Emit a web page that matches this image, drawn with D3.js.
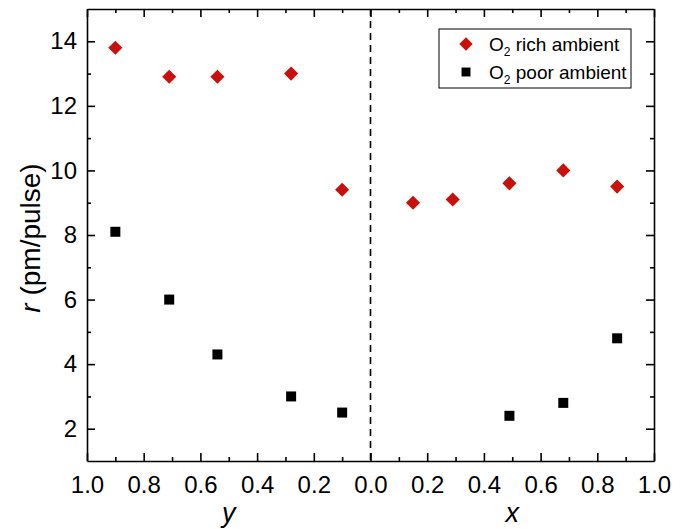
<!DOCTYPE html>
<html>
<head>
<meta charset="utf-8">
<script src="https://cdn.jsdelivr.net/npm/d3@7"></script>
<style>
  body { margin: 0; background: #fff; }
  text { font-family: Arial, "Liberation Sans", sans-serif; fill: #000; }
</style>
</head>
<body>
<div id="chart"></div>
<script>
// composition on the y side (left half) and x side (right half)
const yComp = [0.9, 0.71, 0.54, 0.28, 0.1];
const xCompRich = [0.15, 0.29, 0.49, 0.68, 0.87];
const xCompPoor = [0.49, 0.68, 0.87];

// rate r (pm/pulse)
const richLeft = [13.8, 12.9, 12.9, 13.0, 9.4];
const poorLeft = [8.1, 6.0, 4.3, 3.0, 2.5];
const richRight = [9.0, 9.1, 9.6, 10.0, 9.5];
const poorRight = [2.4, 2.8, 4.8];

const xTicks = [-1, -0.8, -0.6, -0.4, -0.2, 0, 0.2, 0.4, 0.6, 0.8, 1];
const yTicks = [2, 4, 6, 8, 10, 12, 14];

const width = 688, height = 529;
const margin = { top: 9, right: 34, bottom: 68, left: 87 };
const w = width - margin.left - margin.right;
const h = height - margin.top - margin.bottom;

const svg = d3.select("#chart")
    .append("svg")
    .attr("width", width)
    .attr("height", height);

const g = svg.append("g")
    .attr("transform", `translate(${margin.left},${margin.top})`);

// left half is y composition mirrored, so map -y .. +x
const x = d3.scaleLinear().domain([-1, 1]).range([0, w]);
const y = d3.scaleLinear().domain([1, 15]).range([h, 0]);

const richData = yComp.map((c, i) => ({ c: -c, r: richLeft[i] }))
    .concat(xCompRich.map((c, i) => ({ c: c, r: richRight[i] })));
const poorData = yComp.map((c, i) => ({ c: -c, r: poorLeft[i] }))
    .concat(xCompPoor.map((c, i) => ({ c: c, r: poorRight[i] })));

const minorX = d3.range(-0.9, 1, 0.2);
const minorY = d3.range(3, 15, 2);
const fmt = d => Math.abs(d).toFixed(1);
const fontFam = "Arial, 'Liberation Sans', sans-serif";

// bottom axis
g.append("g")
    .attr("transform", `translate(0,${h})`)
    .call(d3.axisBottom(x).tickValues(xTicks).tickFormat(fmt).tickSizeInner(-8).tickSizeOuter(0).tickPadding(15))
    .call(a => a.selectAll("text").attr("font-size", 24).attr("font-family", fontFam));
g.append("g")
    .attr("transform", `translate(0,${h})`)
    .call(d3.axisBottom(x).tickValues(minorX).tickFormat("").tickSizeInner(-4).tickSizeOuter(0))
    .call(a => a.select(".domain").remove());

// top axis
g.append("g")
    .call(d3.axisTop(x).tickValues(xTicks).tickFormat("").tickSizeInner(-8).tickSizeOuter(0));
g.append("g")
    .call(d3.axisTop(x).tickValues(minorX).tickFormat("").tickSizeInner(-4).tickSizeOuter(0))
    .call(a => a.select(".domain").remove());

// left axis
g.append("g")
    .call(d3.axisLeft(y).tickValues(yTicks).tickSizeInner(-8).tickSizeOuter(0).tickPadding(10))
    .call(a => a.selectAll("text").attr("font-size", 24).attr("font-family", fontFam));
g.append("g")
    .call(d3.axisLeft(y).tickValues(minorY).tickFormat("").tickSizeInner(-4).tickSizeOuter(0))
    .call(a => a.select(".domain").remove());

// right axis
g.append("g")
    .attr("transform", `translate(${w},0)`)
    .call(d3.axisRight(y).tickValues(yTicks).tickFormat("").tickSizeInner(-8).tickSizeOuter(0));
g.append("g")
    .attr("transform", `translate(${w},0)`)
    .call(d3.axisRight(y).tickValues(minorY).tickFormat("").tickSizeInner(-4).tickSizeOuter(0))
    .call(a => a.select(".domain").remove());

g.selectAll(".domain, .tick line").attr("stroke", "#000").attr("stroke-width", 1.6);

// dashed divider at 0
g.append("line")
    .attr("x1", x(0)).attr("x2", x(0))
    .attr("y1", 0).attr("y2", h)
    .attr("stroke", "#000")
    .attr("stroke-width", 1.6)
    .attr("stroke-dasharray", "7,5");

const diamond = d3.symbol().type(d3.symbolSquare).size(100);
const square = d3.symbol().type(d3.symbolSquare).size(100);

g.selectAll(".rich")
    .data(richData)
    .enter().append("path")
    .attr("class", "rich")
    .attr("d", diamond)
    .attr("transform", d => `translate(${x(d.c)},${y(d.r)}) rotate(45)`)
    .attr("fill", "#c8100c");

g.selectAll(".poor")
    .data(poorData)
    .enter().append("path")
    .attr("class", "poor")
    .attr("d", square)
    .attr("transform", d => `translate(${x(d.c)},${y(d.r)})`)
    .attr("fill", "#000");

// axis titles
svg.append("text")
    .attr("x", margin.left + x(-0.5))
    .attr("y", 522)
    .attr("text-anchor", "middle")
    .attr("font-size", 27)
    .attr("font-style", "italic")
    .text("y");
svg.append("text")
    .attr("x", margin.left + x(0.5))
    .attr("y", 522)
    .attr("text-anchor", "middle")
    .attr("font-size", 27)
    .attr("font-style", "italic")
    .text("x");

const yl = svg.append("text")
    .attr("transform", `translate(40,${margin.top + h / 2 + 3}) rotate(-90)`)
    .attr("text-anchor", "middle")
    .attr("font-size", 28);
yl.append("tspan").attr("font-style", "italic").text("r");
yl.append("tspan").text(" (pm/pulse)");

// legend
const leg = svg.append("g");
leg.append("rect")
    .attr("x", 439).attr("y", 29)
    .attr("width", 192).attr("height", 59)
    .attr("fill", "#fff")
    .attr("stroke", "#000")
    .attr("stroke-width", 1);

const legItems = [
    { label: " rich ambient", color: "#c8100c", rot: 45 },
    { label: " poor ambient", color: "#000", rot: 0 }
];
legItems.forEach((it, i) => {
    const cy = 44 + i * 28;
    leg.append("path")
        .attr("d", d3.symbol().type(d3.symbolSquare).size(i === 0 ? 90 : 80))
        .attr("transform", `translate(466,${cy}) rotate(${it.rot})`)
        .attr("fill", it.color);
    const t = leg.append("text")
        .attr("x", 489).attr("y", cy + 7)
        .attr("font-size", 19);
    t.append("tspan").text("O");
    t.append("tspan").attr("font-size", 12).attr("dy", 5).text("2");
    t.append("tspan").attr("dy", -5).text(it.label);
});
</script>
</body>
</html>
